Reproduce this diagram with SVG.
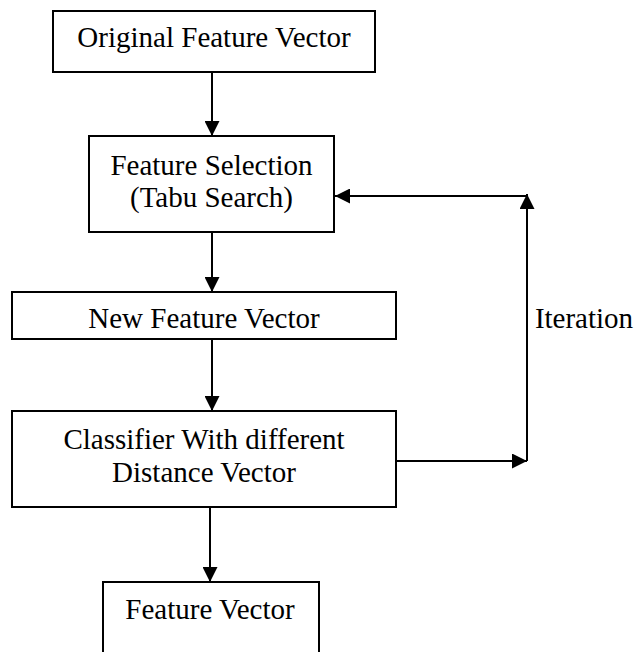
<svg xmlns="http://www.w3.org/2000/svg" width="634" height="652" viewBox="0 0 634 652">
  <style>
    .box { fill: #ffffff; stroke: #000000; stroke-width: 2; }
    .lbl { font-family: 'Liberation Serif', 'Times New Roman', serif; font-size: 29px; fill: #000000; text-anchor: middle; }
    .wire { fill: none; stroke: #000000; stroke-width: 2; }
  </style>
  <defs>
    <marker id="arrow" viewBox="0 0 15 15" refX="15" refY="7.5" markerWidth="15" markerHeight="15" markerUnits="userSpaceOnUse" orient="auto">
      <path d="M0,0 L15,7.5 L0,15 Z" fill="#000000"/>
    </marker>
  </defs>

  <!-- flow connectors -->
  <g id="connectors">
    <line class="wire" x1="212" y1="72" x2="212" y2="136" marker-end="url(#arrow)"/>
    <line class="wire" x1="212" y1="232" x2="212" y2="292" marker-end="url(#arrow)"/>
    <line class="wire" x1="212" y1="339" x2="212" y2="411" marker-end="url(#arrow)"/>
    <line class="wire" x1="210" y1="507" x2="210" y2="582" marker-end="url(#arrow)"/>
    <!-- iteration loop -->
    <line class="wire" x1="396" y1="461" x2="527" y2="461" marker-end="url(#arrow)"/>
    <line class="wire" x1="527" y1="461" x2="527" y2="194" marker-end="url(#arrow)"/>
    <line class="wire" x1="527" y1="196" x2="335" y2="196" marker-end="url(#arrow)"/>
    <text class="lbl" x="584" y="328">Iteration</text>
  </g>

  <g id="original-feature-vector">
    <rect class="box" x="53" y="11" width="322" height="61"/>
    <text class="lbl" x="214" y="47">Original Feature Vector</text>
  </g>

  <g id="feature-selection">
    <rect class="box" x="89" y="136" width="245" height="96"/>
    <text class="lbl" x="211.5" y="175">Feature Selection</text>
    <text class="lbl" x="211.5" y="207">(Tabu Search)</text>
  </g>

  <g id="new-feature-vector">
    <rect class="box" x="12" y="292" width="384" height="47"/>
    <text class="lbl" x="204" y="328">New Feature Vector</text>
  </g>

  <g id="classifier">
    <rect class="box" x="12" y="411" width="384" height="96"/>
    <text class="lbl" x="204" y="449">Classifier With different</text>
    <text class="lbl" x="204" y="482">Distance Vector</text>
  </g>

  <g id="feature-vector">
    <rect class="box" x="103" y="582" width="216" height="90"/>
    <text class="lbl" x="210" y="619">Feature Vector</text>
  </g>
</svg>
